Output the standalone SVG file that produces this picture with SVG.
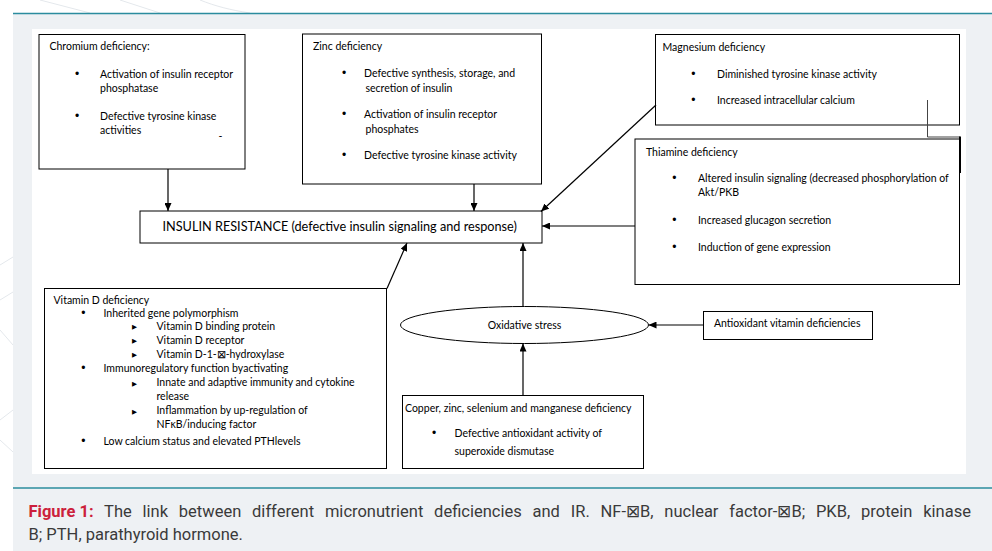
<svg xmlns="http://www.w3.org/2000/svg" width="992" height="551" viewBox="0 0 992 551">
<defs>
<marker id="ah" markerWidth="8" markerHeight="7" refX="8" refY="3.5" orient="auto" markerUnits="userSpaceOnUse">
<path d="M0,0 L8,3.5 L0,7 z" fill="#000"/>
</marker>
<style>
.box{fill:#fff;stroke:#000;stroke-width:1}
.t{font-family:Lato,"Liberation Sans",Arial,sans-serif;font-size:10.5px;fill:#000}
.ir{font-size:12.7px}
.b{font-family:"Liberation Sans",Arial,sans-serif;font-size:12px;fill:#000}
.tri{font-family:"DejaVu Sans","Liberation Sans",sans-serif;font-size:6.5px;fill:#000}
.c{stroke:#000;stroke-width:1.2;fill:none}
.cap{font-family:Roboto,"Liberation Sans",Arial,sans-serif;font-size:16.5px;fill:#3a3a3a}
.red{fill:#cc1f3c;font-weight:bold;word-spacing:0}
.wm{stroke:#e4e8ec;stroke-width:1;fill:none}
</style>
</defs>
<rect x="0" y="0" width="992" height="551" fill="#fff"/>
<g id="watermark">
<path class="wm" d="M0,265 L13,257 M0,300 L13,292 M0,330 L13,345 M0,420 L13,410 M0,440 L13,452 M40,0 L90,13 M120,0 L160,13 M200,0 C215,6 230,10 250,13"/>
</g>
<rect x="13" y="13" width="979" height="538" fill="#eef1f4"/>
<line x1="13" y1="13.5" x2="992" y2="13.5" stroke="#2b8c9e" stroke-width="1.5"/>
<rect x="32" y="29" width="934" height="445" fill="#fff"/>
<line x1="13" y1="488" x2="992" y2="488" stroke="#2b8c9e" stroke-width="1.5"/>

<g id="chromium">
<rect class="box" x="39" y="34.5" width="206" height="134.5"/>
<text class="t" x="49.5" y="50">Chromium deficiency:</text>
<text class="b" x="74.9" y="78">•</text>
<text class="t" x="100" y="78">Activation of insulin receptor</text>
<text class="t" x="100" y="92">phosphatase</text>
<text class="b" x="74.9" y="120">•</text>
<text class="t" x="100" y="120">Defective tyrosine kinase</text>
<text class="t" x="100" y="134">activities</text>
<text class="t" x="218.5" y="140">-</text>
</g>

<g id="zinc">
<rect class="box" x="302.5" y="34" width="239" height="150"/>
<text class="t" x="313" y="50">Zinc deficiency</text>
<text class="b" x="341.9" y="77">•</text>
<text class="t" x="364" y="77">Defective synthesis, storage, and</text>
<text class="t" x="365.5" y="91.5">secretion of insulin</text>
<text class="b" x="341.9" y="118">•</text>
<text class="t" x="364" y="118">Activation of insulin receptor</text>
<text class="t" x="365.5" y="132.5">phosphates</text>
<text class="b" x="341.9" y="159">•</text>
<text class="t" x="364" y="159">Defective tyrosine kinase activity</text>
</g>

<g id="magnesium">
<rect class="box" x="655.5" y="34.5" width="304" height="90.5"/>
<text class="t" x="662.5" y="51">Magnesium deficiency</text>
<text class="b" x="691.2" y="78">•</text>
<text class="t" x="717" y="78">Diminished tyrosine kinase activity</text>
<text class="b" x="691.2" y="104">•</text>
<text class="t" x="717" y="104">Increased intracellular calcium</text>
</g>

<g id="thiamine">
<rect class="box" x="635" y="139" width="324.5" height="145.5"/>
<text class="t" x="646" y="155.5">Thiamine deficiency</text>
<text class="b" x="672.2" y="182">•</text>
<text class="t" x="698" y="182">Altered insulin signaling (decreased phosphorylation of</text>
<text class="t" x="698" y="196">Akt/PKB</text>
<text class="b" x="672.2" y="224">•</text>
<text class="t" x="698" y="224">Increased glucagon secretion</text>
<text class="b" x="672.2" y="250.5">•</text>
<text class="t" x="698" y="250.5">Induction of gene expression</text>
</g>

<g id="insulin-resistance">
<rect class="box" x="140" y="211" width="402" height="32"/>
<text class="t ir" x="162.5" y="230.5">INSULIN RESISTANCE (defective insulin signaling and response)</text>
</g>

<g id="vitamin-d">
<rect class="box" x="44.5" y="288.5" width="342" height="180"/>
<text class="t" x="53.5" y="304">Vitamin D deficiency</text>
<text class="b" x="81.2" y="316.5">•</text>
<text class="t" x="103.5" y="316.5">Inherited gene polymorphism</text>
<text class="tri" x="132" y="329">▶</text>
<text class="t" x="156.5" y="329.5">Vitamin D binding protein</text>
<text class="tri" x="132" y="343">▶</text>
<text class="t" x="156.5" y="343.5">Vitamin D receptor</text>
<text class="tri" x="132" y="357">▶</text>
<text class="t" x="156.5" y="357.5">Vitamin D-1-⊠-hydroxylase</text>
<text class="b" x="81.2" y="371.5">•</text>
<text class="t" x="103.5" y="371.5">Immunoregulatory function byactivating</text>
<text class="tri" x="132" y="385.5">▶</text>
<text class="t" x="156.5" y="386">Innate and adaptive immunity and cytokine</text>
<text class="t" x="156.5" y="400">release</text>
<text class="tri" x="132" y="413.5">▶</text>
<text class="t" x="156.5" y="414">Inflammation by up-regulation of</text>
<text class="t" x="156.5" y="428">NFκB/inducing factor</text>
<text class="b" x="81.2" y="445">•</text>
<text class="t" x="103.5" y="445">Low calcium status and elevated PTHlevels</text>
</g>

<g id="oxidative-stress">
<ellipse cx="524.5" cy="325" rx="124" ry="18.5" fill="#fff" stroke="#000" stroke-width="1"/>
<text class="t" x="524.5" y="328.5" text-anchor="middle">Oxidative stress</text>
</g>

<g id="antioxidant">
<rect class="box" x="703.5" y="311.5" width="169" height="28"/>
<text class="t" x="714" y="327">Antioxidant vitamin deficiencies</text>
</g>

<g id="copper">
<rect class="box" x="402.5" y="395.5" width="241" height="73"/>
<text class="t" x="405" y="412">Copper, zinc, selenium and manganese deficiency</text>
<text class="b" x="431.9" y="437">•</text>
<text class="t" x="454.5" y="437">Defective antioxidant activity of</text>
<text class="t" x="454.5" y="455">superoxide dismutase</text>
</g>

<g id="connectors">
<line class="c" x1="168" y1="169" x2="168" y2="211" marker-end="url(#ah)"/>
<line class="c" x1="474" y1="184" x2="474" y2="211" marker-end="url(#ah)"/>
<line class="c" x1="656" y1="105" x2="541" y2="211.5" marker-end="url(#ah)"/>
<line class="c" x1="635" y1="226" x2="542" y2="226" marker-end="url(#ah)"/>
<line class="c" x1="387" y1="288.5" x2="407" y2="243" marker-end="url(#ah)"/>
<line class="c" x1="523" y1="306.5" x2="523" y2="243" marker-end="url(#ah)"/>
<line class="c" x1="703.5" y1="325" x2="648.5" y2="325" marker-end="url(#ah)"/>
<line class="c" x1="523" y1="395.5" x2="523" y2="343.5" marker-end="url(#ah)"/>
<polyline points="927.5,100 927.5,137 960,137" fill="none" stroke="#444" stroke-width="1"/>
<line x1="960" y1="136.5" x2="960" y2="173" stroke="#000" stroke-width="2"/>
</g>

<g id="caption">
<text class="cap" x="28.5" y="517" word-spacing="6.7"><tspan class="red">Figure 1:</tspan> The link between different micronutrient deficiencies and IR. NF-⊠B, nuclear factor-⊠B; PKB, protein kinase</text>
<text class="cap" x="28.5" y="540">B; PTH, parathyroid hormone.</text>
</g>
</svg>
